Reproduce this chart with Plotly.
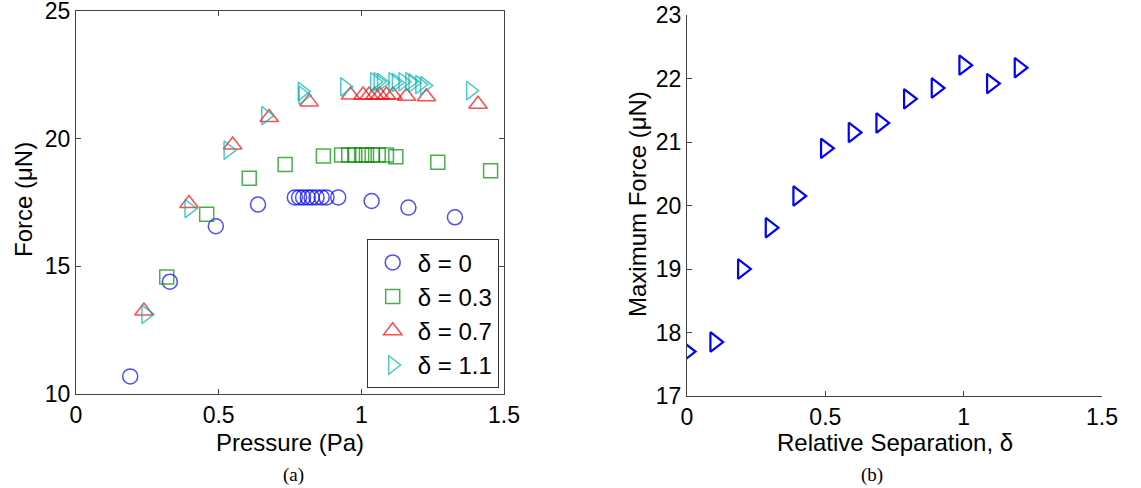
import plotly.graph_objects as go

# ---- Data: panel (a) Force vs Pressure ----
p_d0 = [0.19, 0.329, 0.49, 0.638, 0.767, 0.782, 0.796, 0.812, 0.826, 0.843, 0.861, 0.878, 0.919, 1.036, 1.165, 1.328]
f_d0 = [10.69, 14.40, 16.57, 17.42, 17.70, 17.70, 17.70, 17.70, 17.70, 17.70, 17.70, 17.70, 17.70, 17.56, 17.30, 16.92]

p_d3 = [0.318, 0.458, 0.607, 0.733, 0.867, 0.931, 0.956, 0.977, 1.001, 1.018, 1.038, 1.059, 1.088, 1.121, 1.268, 1.453]
f_d3 = [14.58, 17.04, 18.45, 18.99, 19.32, 19.36, 19.36, 19.36, 19.36, 19.36, 19.36, 19.36, 19.36, 19.29, 19.08, 18.74]

p_d7 = [0.238, 0.396, 0.549, 0.677, 0.817, 0.962, 1.006, 1.027, 1.047, 1.065, 1.088, 1.111, 1.158, 1.228, 1.409]
f_d7 = [13.25, 17.46, 19.75, 20.83, 21.44, 21.71, 21.71, 21.71, 21.71, 21.71, 21.71, 21.71, 21.66, 21.64, 21.35]

p_d11 = [0.245, 0.396, 0.533, 0.665, 0.793, 0.796, 0.942, 1.047, 1.059, 1.071, 1.111, 1.123, 1.146, 1.170, 1.181, 1.205, 1.222, 1.383]
f_d11 = [13.12, 17.26, 19.55, 20.90, 21.85, 21.70, 22.03, 22.23, 22.23, 22.20, 22.23, 22.20, 22.23, 22.23, 22.18, 22.12, 22.08, 21.88]

# ---- Data: panel (b) Maximum force vs relative separation ----
sep = [0.0, 0.1, 0.2, 0.3, 0.4, 0.5, 0.6, 0.7, 0.8, 0.9, 1.0, 1.1, 1.2]
fmax = [17.70, 17.85, 19.00, 19.65, 20.15, 20.90, 21.15, 21.30, 21.68, 21.85, 22.21, 21.92, 22.17]

legend_names = ["δ = 0", "δ = 0.3", "δ = 0.7", "δ = 1.1"]
x_ticks = [0, 0.5, 1, 1.5]
ya_ticks = [10, 15, 20, 25]
yb_ticks = [17, 18, 19, 20, 21, 22, 23]

W, H = 1141, 488
FONT = "Liberation Sans, Arial, sans-serif"
SERIF = "Liberation Serif, Times New Roman, serif"
AX = "#444444"
FS = 23

fig = go.Figure()

series = [
    (p_d0, f_d0, "circle-open", "#0000ff", 15),
    (p_d3, f_d3, "square-open", "#008a00", 14),
    (p_d7, f_d7, "triangle-up-open", "#ff0000", 16),
    (p_d11, f_d11, "triangle-right-open", "#00b4b4", 16),
]
for i, (x, y, sym, col, sz) in enumerate(series):
    fig.add_trace(go.Scatter(
        x=x, y=y, mode="markers", name=legend_names[i], legendgroup=f"g{i}",
        marker=dict(symbol=sym, size=sz, color=col, opacity=0.7,
                    line=dict(width=1.5, color=col)),
        xaxis="x", yaxis="y"))

fig.add_trace(go.Scatter(
    x=sep, y=fmax, mode="markers", showlegend=False,
    marker=dict(symbol="triangle-right-open", size=17, color="#0000ff",
                line=dict(width=2.2, color="#0000ff")),
    xaxis="x2", yaxis="y2"))

def px_x(a, b):
    return [a / W, b / W]

def px_y(top, bottom):
    return [(H - bottom) / H, (H - top) / H]

common = dict(showgrid=False, zeroline=False, linecolor=AX, linewidth=1,
              ticks="inside", ticklen=5, tickcolor=AX, tickwidth=1,
              automargin=False, ticklabeloverflow="allow",
              tickfont=dict(family=FONT, size=FS, color="black"))

def label(text, xpx, ypx, angle=0, font=FONT, size=24):
    return dict(text=text, x=xpx / W, y=(H - ypx) / H, xref="paper", yref="paper",
                xanchor="center", yanchor="middle", textangle=angle,
                showarrow=False, font=dict(family=font, size=size, color="black"))

fig.update_layout(
    width=W, height=H, margin=dict(l=0, r=0, t=0, b=0),
    paper_bgcolor="white", plot_bgcolor="white",
    font=dict(family=FONT, size=FS, color="black"),
    xaxis=dict(domain=px_x(76, 504), range=[0, 1.5], tickvals=x_ticks,
               ticktext=["0", "0.5", "1", "1.5"], showline=True, mirror="ticks",
               ticklabelstandoff=0, anchor="y", **common),
    yaxis=dict(domain=px_y(11, 394), range=[10, 25], tickvals=ya_ticks,
               showline=True, mirror="ticks", ticklabelstandoff=0,
               anchor="x", **common),
    xaxis2=dict(domain=px_x(687, 1102), range=[0, 1.5], tickvals=x_ticks,
                ticktext=["0", "0.5", "1", "1.5"], showline=True,
                ticklabelstandoff=0, anchor="y2", **common),
    yaxis2=dict(domain=px_y(15, 396), range=[17, 23], tickvals=yb_ticks,
                showline=True, ticklabelstandoff=0, anchor="x2", **common),
    legend=dict(x=498.7 / W, y=(H - 388.3) / H, xanchor="right", yanchor="bottom",
                bgcolor="white", bordercolor="#333333", borderwidth=1,
                font=dict(family=FONT, size=24, color="black"),
                tracegroupgap=0, itemwidth=40),
    annotations=[
        label("Pressure (Pa)", 290, 442),
        label("Force (μN)", 23, 200, angle=-90),
        label("Relative Separation, δ", 895, 442),
        label("Maximum Force (μN)", 637, 204, angle=-90),
        label("(a)", 293, 475, font=SERIF, size=19),
        label("(b)", 872, 475, font=SERIF, size=19),
    ],
)

fig.write_html("out.html")
